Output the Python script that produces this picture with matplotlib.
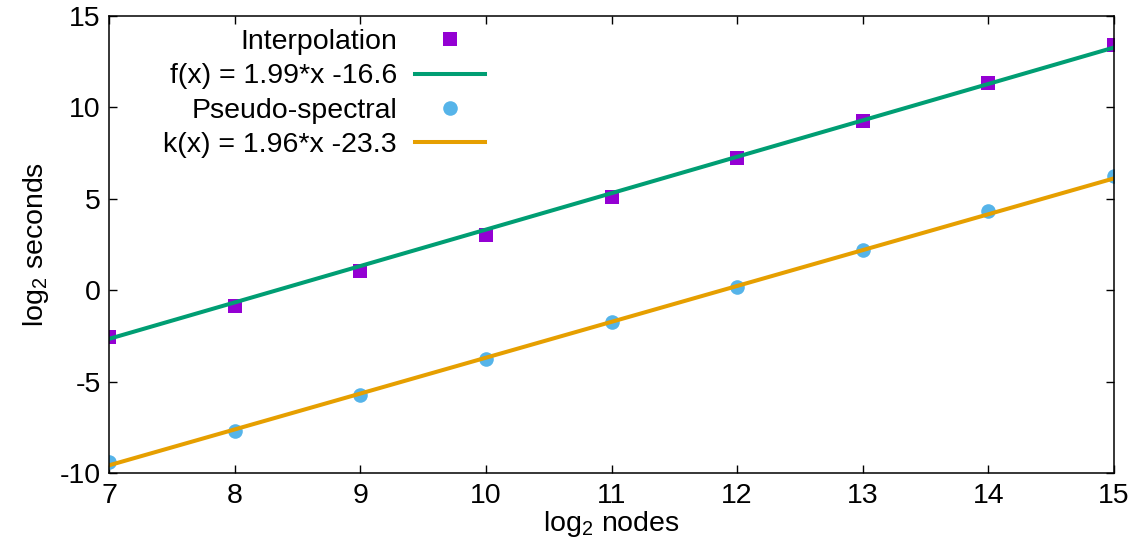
import numpy as np
import matplotlib
matplotlib.use('Agg')
import matplotlib.pyplot as plt

plt.rcParams.update({
    'font.family': ['Liberation Sans', 'DejaVu Sans'],
    'font.size': 20.5,
    'mathtext.default': 'regular',
    'axes.unicode_minus': False,
    'axes.linewidth': 1.1,
    'xtick.direction': 'in',
    'ytick.direction': 'in',
    'xtick.top': True,
    'ytick.right': True,
    'xtick.major.size': 6,
    'ytick.major.size': 6,
    'xtick.major.width': 1.0,
    'ytick.major.width': 1.0,
})

# data
log2_nodes = [7, 8, 9, 10, 11, 12, 13, 14, 15]
interp_sec = [-2.55, -0.85, 1.02, 3.03, 5.09, 7.20, 9.21, 11.30, 13.38]
pseudo_sec = [-9.41, -7.71, -5.76, -3.78, -1.76, 0.18, 2.17, 4.30, 6.21]

# fitted lines as given in the legend
f_slope, f_icpt = 1.99, -16.6
k_slope, k_icpt = 1.96, -23.3

PURPLE = '#9400D3'
GREEN = '#009E73'
BLUE = '#56B4E9'
ORANGE = '#E69F00'

fig = plt.figure(figsize=(11.43, 5.42), dpi=100)
ax = fig.add_axes([0.0954, 0.1273, 0.8792, 0.8441])

xs = np.array([log2_nodes[0], log2_nodes[-1]], dtype=float)

ax.plot(log2_nodes, interp_sec, 's', color=PURPLE, markersize=10,
        markeredgewidth=0, label='Interpolation', zorder=3)
ax.plot(xs, f_slope * xs + f_icpt, color=GREEN, lw=2.9,
        label='f(x) = 1.99*x -16.6', zorder=4)
ax.plot(log2_nodes, pseudo_sec, 'o', color=BLUE, markersize=10.5,
        markeredgewidth=0, label='Pseudo-spectral', zorder=3)
ax.plot(xs, k_slope * xs + k_icpt, color=ORANGE, lw=2.9,
        label='k(x) = 1.96*x -23.3', zorder=4)

ax.set_xlim(7, 15)
ax.set_ylim(-10, 15)
ax.set_xticks(range(7, 16))
ax.set_yticks(range(-10, 16, 5))
ax.tick_params(axis='x', pad=7)
ax.tick_params(axis='y', pad=6)
for sp in ax.spines.values():
    sp.set_zorder(5)

ax.set_xlabel('log$_2$ nodes', labelpad=0)
ax.set_ylabel('log$_2$ seconds', labelpad=6)

ax.legend(loc='upper right', bbox_to_anchor=(0.374, 0.970), frameon=False,
          markerfirst=False, handlelength=2.46, handletextpad=0.63,
          labelspacing=0.29, borderpad=0, borderaxespad=0)

fig.savefig('out.png', dpi=100)
